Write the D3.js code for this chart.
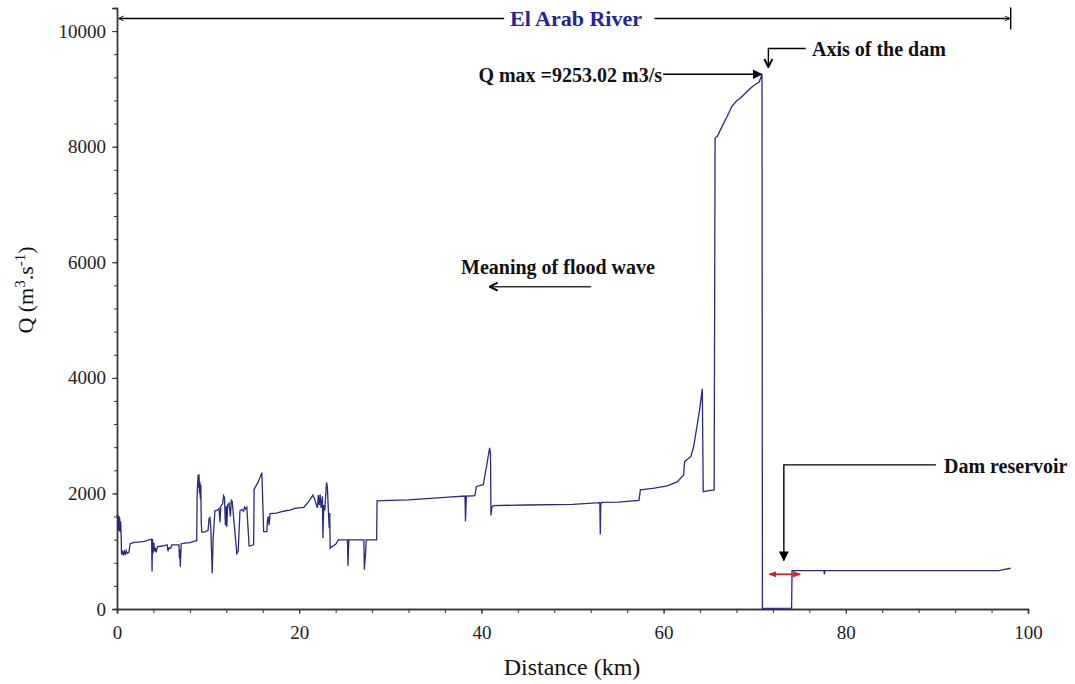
<!DOCTYPE html>
<html>
<head>
<meta charset="utf-8">
<script src="https://cdn.jsdelivr.net/npm/d3@7/dist/d3.min.js"></script>
<style>
  html, body { margin: 0; padding: 0; background: #fff; }
  svg, svg text { font-family: "Liberation Serif", "Times New Roman", serif; }
</style>
</head>
<body>
<div id="chart"></div>
<script>
// =========================
// DATA
// =========================
const distanceKm = [
  0.0, 0.1, 0.15, 0.2, 0.25, 0.3, 0.35, 0.4, 0.45, 0.5, 0.6, 0.7, 0.8, 0.9, 1.0, 1.1, 1.3, 1.45, 1.8, 2.5,
  3.0, 3.7, 3.8, 3.85, 3.9, 3.95, 4.05, 4.1, 4.2, 4.3, 4.45, 5.0, 5.5, 5.6, 5.7, 5.9, 6.0, 6.5, 6.8, 6.85,
  6.9, 6.95, 7.05, 7.5, 8.0, 8.6, 8.75, 8.8, 8.9, 8.95, 9.0, 9.05, 9.1, 9.15, 9.2, 9.25, 9.3, 9.6, 10.0, 10.1,
  10.2, 10.3, 10.45, 10.55, 10.75, 11.0, 11.2, 11.3, 11.4, 11.6, 11.7, 11.8, 11.9, 12.0, 12.05, 12.15, 12.3, 12.45, 12.55, 12.65,
  13.15, 13.3, 13.5, 13.7, 13.9, 14.0, 14.1, 14.25, 14.5, 15.0, 15.05, 15.5, 15.9, 16.1, 16.45, 16.5, 16.6, 16.7, 16.8, 17.5,
  18.0, 18.5, 19.0, 19.5, 20.0, 20.5, 21.0, 21.5, 21.7, 21.9, 22.0, 22.1, 22.2, 22.3, 22.4, 22.55, 22.6, 22.7, 22.8, 23.0,
  23.1, 23.2, 23.3, 23.35, 23.4, 23.6, 24.0, 24.3, 25.3, 25.35, 25.45, 27.1, 27.15, 27.3, 27.35, 28.5, 28.55, 30.0, 32.0, 34.0,
  36.0, 38.2, 38.25, 38.35, 39.2, 39.3, 39.45, 40.2, 40.6, 40.9, 41.0, 41.05, 41.15, 41.3, 45.0, 50.0, 53.0, 53.05, 53.1, 53.2,
  55.0, 57.3, 57.45, 59.0, 60.4, 61.5, 62.2, 62.3, 63.0, 63.3, 63.9, 64.25, 64.35, 65.0, 65.55, 65.65, 65.9, 66.45, 67.0, 67.5,
  68.0, 68.5, 69.0, 69.6, 70.1, 70.5, 70.8, 70.85, 74.05, 74.1, 77.6, 77.65, 77.7, 96.8, 97.3, 98.1
];

const discharge = [
  1630, 1560, 1620, 1350, 1600, 1560, 1330, 1520, 1300, 940, 1010, 930, 1000, 950, 1010, 960, 980, 1130, 1150, 1160,
  1170, 1205, 1210, 650, 1210, 960, 1150, 1000, 1060, 980, 1080, 1090, 1110, 1000, 1060, 1050, 1110, 1110, 1110, 880,
  1030, 730, 1130, 1140, 1150, 1180, 1180, 2000, 2320, 2100, 2330, 2000, 2200, 1900, 2150, 1500, 1330, 1330, 1360, 1560,
  1580, 1400, 620, 1200, 1700, 1710, 1740, 1500, 1780, 1820, 1960, 1930, 1450, 1780, 1420, 1800, 1830, 1600, 1880, 1860,
  960, 1000, 1700, 1720, 1690, 1760, 1730, 1760, 1090, 1110, 2070, 2200, 2360, 1340, 1340, 1500, 1600, 1450, 1650, 1660,
  1680, 1700, 1710, 1740, 1750, 1760, 1850, 1970, 1900, 1790, 1750, 1970, 1800, 1980, 1750, 1950, 1230, 1800, 1700, 2190,
  2100, 1700, 1400, 1660, 1050, 1080, 1120, 1195, 1195, 750, 1195, 1195, 680, 1000, 1195, 1195, 1870, 1880, 1890, 1910,
  1930, 1955, 1520, 1955, 1960, 1975, 2120, 2150, 2500, 2790, 2680, 1620, 1760, 1790, 1800, 1810, 1840, 1290, 1800, 1845,
  1850, 1880, 2060, 2090, 2130, 2200, 2320, 2550, 2640, 2810, 3390, 3810, 2030, 2050, 2060, 8150, 8180, 8360, 8530, 8700,
  8790, 8850, 8930, 9020, 9080, 9120, 9253, 10, 15, 663, 663, 600, 663, 663, 680, 705
];

const xTicks = [0, 20, 40, 60, 80, 100];
const yTicks = [0, 2000, 4000, 6000, 8000, 10000];

const qMax = 9253.02;

const SERIF = "Liberation Serif, Times New Roman, serif";

// =========================
// LAYOUT
// =========================
const margin = { top: 8, right: 47, bottom: 75, left: 117 };
const W = 1075, H = 684;
const width = W - margin.left - margin.right;
const height = H - margin.top - margin.bottom;

const svg = d3.select("#chart")
  .append("svg")
  .attr("width", W)
  .attr("height", H)
  .attr("font-family", SERIF);

const defs = svg.append("defs");
defs.append("marker")
  .attr("id", "solid").attr("viewBox", "0 0 10 10")
  .attr("refX", 9).attr("refY", 5)
  .attr("markerWidth", 10).attr("markerHeight", 10)
  .attr("markerUnits", "userSpaceOnUse")
  .attr("orient", "auto")
  .append("path").attr("d", "M0,0 L10,5 L0,10 Z").attr("fill", "#000");
defs.append("marker")
  .attr("id", "chev").attr("viewBox", "0 0 10 10")
  .attr("refX", 9).attr("refY", 5)
  .attr("markerWidth", 10).attr("markerHeight", 10)
  .attr("markerUnits", "userSpaceOnUse")
  .attr("orient", "auto")
  .append("path").attr("d", "M1,1 L9,5 L1,9").attr("fill", "none")
  .attr("stroke", "#000").attr("stroke-width", 2);
defs.append("marker")
  .attr("id", "tiny").attr("viewBox", "0 0 10 10")
  .attr("refX", 9).attr("refY", 5)
  .attr("markerWidth", 6).attr("markerHeight", 6)
  .attr("markerUnits", "userSpaceOnUse")
  .attr("orient", "auto")
  .append("path").attr("d", "M1,1 L9,5 L1,9").attr("fill", "none")
  .attr("stroke", "#000").attr("stroke-width", 1.5);
defs.append("marker")
  .attr("id", "red").attr("viewBox", "0 0 10 10")
  .attr("refX", 9).attr("refY", 5)
  .attr("markerWidth", 8).attr("markerHeight", 8)
  .attr("markerUnits", "userSpaceOnUse")
  .attr("orient", "auto-start-reverse")
  .append("path").attr("d", "M0,1 L10,5 L0,9 Z").attr("fill", "#d02828");

const g = svg.append("g")
  .attr("transform", `translate(${margin.left},${margin.top})`);

const x = d3.scaleLinear().domain([0, 100]).range([0, width]);
const y = d3.scaleLinear().domain([0, 10400]).range([height, 0]);

// =========================
// AXES
// =========================
const xAxis = g.append("g")
  .attr("transform", `translate(0,${height})`)
  .call(d3.axisBottom(x).tickValues(d3.range(0, 101, 4)).tickSize(4).tickFormat(""));
xAxis.append("g")
  .call(d3.axisBottom(x).tickValues(xTicks).tickSize(5).tickPadding(12).tickFormat(d3.format("d")));

const yAxis = g.append("g")
  .call(d3.axisLeft(y).tickValues(d3.range(0, 10401, 400)).tickSize(3).tickFormat(""));
yAxis.append("g")
  .call(d3.axisLeft(y).tickValues(yTicks).tickSize(5).tickPadding(6).tickFormat(d3.format("d")));

g.selectAll(".domain").attr("stroke", "#333").attr("stroke-width", 1.4);
g.selectAll(".tick line").attr("stroke", "#333");
xAxis.attr("font-family", SERIF).attr("font-size", 19);
yAxis.attr("font-family", SERIF).attr("font-size", 19);
xAxis.selectAll("g").attr("font-family", SERIF).attr("font-size", 19);
yAxis.selectAll("g").attr("font-family", SERIF).attr("font-size", 19);
g.selectAll(".tick text").attr("fill", "#222");

// axis titles
svg.append("text")
  .attr("x", 572).attr("y", 675)
  .attr("text-anchor", "middle")
  .attr("font-size", 24)
  .attr("fill", "#111")
  .text("Distance (km)");

const yl = svg.append("text")
  .attr("transform", "translate(33,290) rotate(-90)")
  .attr("text-anchor", "middle")
  .attr("font-size", 22)
  .attr("fill", "#111");
yl.append("tspan").text("Q (m");
yl.append("tspan").attr("dy", -8).attr("font-size", 15).text("3");
yl.append("tspan").attr("dy", 8).text(".s");
yl.append("tspan").attr("dy", -8).attr("font-size", 15).text("-1");
yl.append("tspan").attr("dy", 8).text(")");

// =========================
// DISCHARGE PROFILE
// =========================
const points = distanceKm.map((d, i) => [d, discharge[i]]);
g.append("path")
  .datum(points)
  .attr("fill", "none")
  .attr("stroke", "#2a2a80")
  .attr("stroke-width", 1.3)
  .attr("d", d3.line().x(d => x(d[0])).y(d => y(d[1])));

// =========================
// ANNOTATIONS
// =========================
const ann = g.append("g").attr("stroke", "#000").attr("fill", "none");

// river extent bracket
const topQ = 10219;
ann.append("line")
  .attr("x1", x(42.5)).attr("x2", x(0.2))
  .attr("y1", y(topQ)).attr("y2", y(topQ))
  .attr("stroke-width", 1.4)
  .attr("marker-end", "url(#tiny)");
ann.append("line")
  .attr("x1", x(59.0)).attr("x2", x(98.0))
  .attr("y1", y(topQ)).attr("y2", y(topQ))
  .attr("stroke-width", 1.4)
  .attr("marker-end", "url(#tiny)");
ann.append("line")
  .attr("x1", x(98.1)).attr("x2", x(98.1))
  .attr("y1", y(10410)).attr("y2", y(10030))
  .attr("stroke-width", 1.4);
svg.append("text")
  .attr("x", 576).attr("y", 26)
  .attr("text-anchor", "middle")
  .attr("font-size", 22)
  .attr("font-weight", "bold")
  .attr("fill", "#2424a0")
  .text("El Arab River");

// Q max
ann.append("line")
  .attr("x1", x(59.95)).attr("x2", x(70.75))
  .attr("y1", y(qMax)).attr("y2", y(qMax))
  .attr("stroke-width", 1.4)
  .attr("marker-end", "url(#solid)");
svg.append("text")
  .attr("x", 662).attr("y", 82)
  .attr("text-anchor", "end")
  .attr("font-size", 20)
  .attr("font-weight", "bold")
  .attr("fill", "#111")
  .text("Q max =9253.02 m3/s");

// axis of the dam
ann.append("path")
  .attr("d", `M${x(75.6)},${y(9700)} H${x(71.5)} V${y(9380)}`)
  .attr("stroke-width", 1.4)
  .attr("marker-end", "url(#chev)");
svg.append("text")
  .attr("x", 812).attr("y", 56)
  .attr("font-size", 20)
  .attr("font-weight", "bold")
  .attr("fill", "#111")
  .text("Axis of the dam");

// flood wave direction
ann.append("line")
  .attr("x1", x(52.05)).attr("x2", x(40.9))
  .attr("y1", y(5577)).attr("y2", y(5577))
  .attr("stroke", "#333")
  .attr("stroke-width", 1.4)
  .attr("marker-end", "url(#chev)");
svg.append("text")
  .attr("x", 558).attr("y", 274)
  .attr("text-anchor", "middle")
  .attr("font-size", 20)
  .attr("font-weight", "bold")
  .attr("fill", "#111")
  .text("Meaning of flood wave");

// dam reservoir
ann.append("path")
  .attr("d", `M${x(89.9)},${y(2494)} H${x(73.2)} V${y(840)}`)
  .attr("stroke-width", 1.4)
  .attr("marker-end", "url(#solid)");
svg.append("text")
  .attr("x", 944).attr("y", 473)
  .attr("font-size", 20)
  .attr("font-weight", "bold")
  .attr("fill", "#111")
  .text("Dam reservoir");

// reservoir extent (red double arrow)
g.append("line")
  .attr("x1", x(71.6)).attr("x2", x(75.0))
  .attr("y1", y(601)).attr("y2", y(601))
  .attr("stroke", "#d02828")
  .attr("stroke-width", 1.8)
  .attr("marker-start", "url(#red)")
  .attr("marker-end", "url(#red)");
</script>
</body>
</html>
